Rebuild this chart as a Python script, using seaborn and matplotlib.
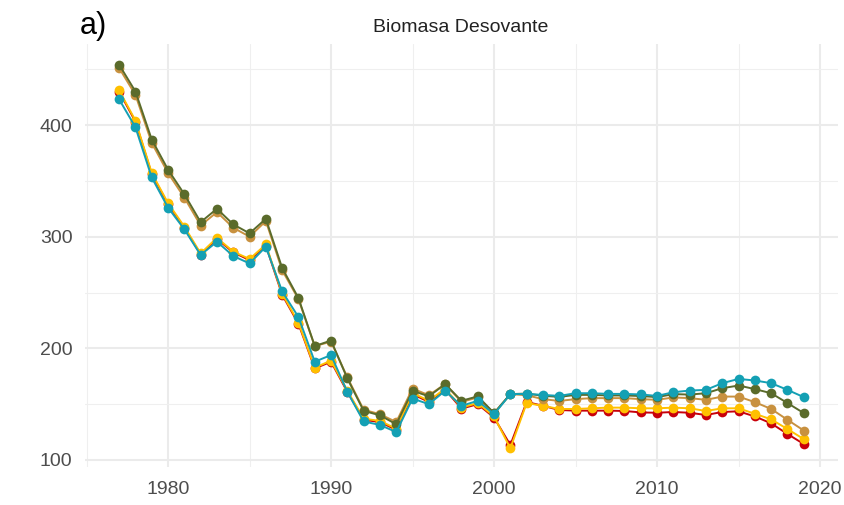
import numpy as np
import pandas as pd
import seaborn as sns
import matplotlib.pyplot as plt
from matplotlib.ticker import MultipleLocator

# years of the assessment
years = list(range(1977, 2020))

# spawning biomass by scenario
red = [430, 403, 356, 329, 308, 284, 298, 286, 279, 292, 248, 222, 182, 188, 161,
       136, 134, 127, 159, 152, 163, 146, 150, 138, 113.4, 152, 148.5, 144.8, 144.2,
       144.2, 144.2, 143.9, 142.6, 142.3, 143, 142.3, 140.3, 143, 143.6, 139, 132.8,
       123.3, 114.3]
yellow = [431, 404, 357, 330, 309, 285, 299, 286.6, 280, 293, 249, 223, 182.7, 189, 162,
          137, 135, 128, 160, 153, 164, 147, 151, 139, 110.5, 151, 148.5, 145.7, 145.7,
          146.3, 146.9, 146.9, 146.3, 146.3, 146.9, 146.3, 143.9, 146.3, 146.3, 141.4,
          136.4, 127.7, 118.7]
brown = [451, 427, 384, 357, 335, 310, 322, 308, 300, 314, 270, 244, 202, 206, 174,
         145, 141, 134, 164, 158, 168, 152, 156, 142, 159, 158, 154.5, 152.9, 154.5,
         155.4, 155.4, 155.4, 154.5, 153.9, 156, 155.4, 153.9, 156.8, 156.8, 151.8,
         145.7, 136, 126.4]
green = [454, 430, 387, 360, 338, 313, 325, 311, 303, 316, 272, 245, 202, 207, 173,
         144, 140, 132, 162, 157, 168, 153, 157, 142, 159, 159.5, 157.5, 156.5, 158.3,
         158.3, 157.8, 157.8, 157.3, 156.3, 159, 158.6, 159.8, 164.3, 166.7, 163.5,
         159.8, 151, 142]
teal = [423, 398, 353, 326, 306.6, 283.6, 295.5, 282.7, 276, 291, 251, 228, 188, 194, 161,
        134.5, 131.4, 125, 155, 150, 162, 148.5, 153, 141, 159, 159.2, 158.3, 157.4, 159.8,
        159.8, 159.2, 159.2, 158.7, 157.4, 160.7, 162.2, 162.8, 168.8, 172.6, 171.2,
        168.8, 162.8, 156.3]

scenarios = ["S1", "S2", "S3", "S4", "S5"]
colors = ["#C8000A", "#FFC000", "#C8913F", "#5A6B2B", "#14A0B4"]

df = pd.DataFrame({
    "year": years * 5,
    "biomasa": red + yellow + brown + green + teal,
    "escenario": np.repeat(scenarios, len(years)),
})

sns.set_theme(style="white")
plt.rcParams["font.family"] = ["Liberation Sans", "DejaVu Sans"]

fig = plt.figure(figsize=(8.44, 5.05), dpi=100)
ax = fig.add_axes([0.1006, 0.0743, 0.8923, 0.8378])

sns.lineplot(data=df, x="year", y="biomasa", hue="escenario",
             palette=dict(zip(scenarios, colors)), marker="o", markersize=7,
             markeredgewidth=0, linewidth=1.4, legend=False, ax=ax, zorder=3)

ax.set_xlim(1974.9, 2021.1)
ax.set_ylim(93.3, 472.2)
ax.xaxis.set_major_locator(MultipleLocator(10))
ax.xaxis.set_minor_locator(MultipleLocator(5))
ax.yaxis.set_major_locator(MultipleLocator(100))
ax.yaxis.set_minor_locator(MultipleLocator(50))
ax.grid(which="major", color="#EBEBEB", linewidth=1.5)
ax.grid(which="minor", color="#EFEFEF", linewidth=0.8)
ax.set_axisbelow(True)
for s in ax.spines.values():
    s.set_visible(False)
ax.tick_params(which="both", length=0, labelsize=14, labelcolor="#4D4D4D")
ax.tick_params(axis="x", pad=10)
ax.tick_params(axis="y", pad=9)
ax.set_xlabel("")
ax.set_ylabel("")

fig.text(0.546, 0.946, "Biomasa Desovante", ha="center", va="center",
         fontsize=14, color="#222222")
fig.text(0.094, 0.949, "a)", ha="left", va="center", fontsize=22, color="black")

fig.savefig("out.png", dpi=100)
